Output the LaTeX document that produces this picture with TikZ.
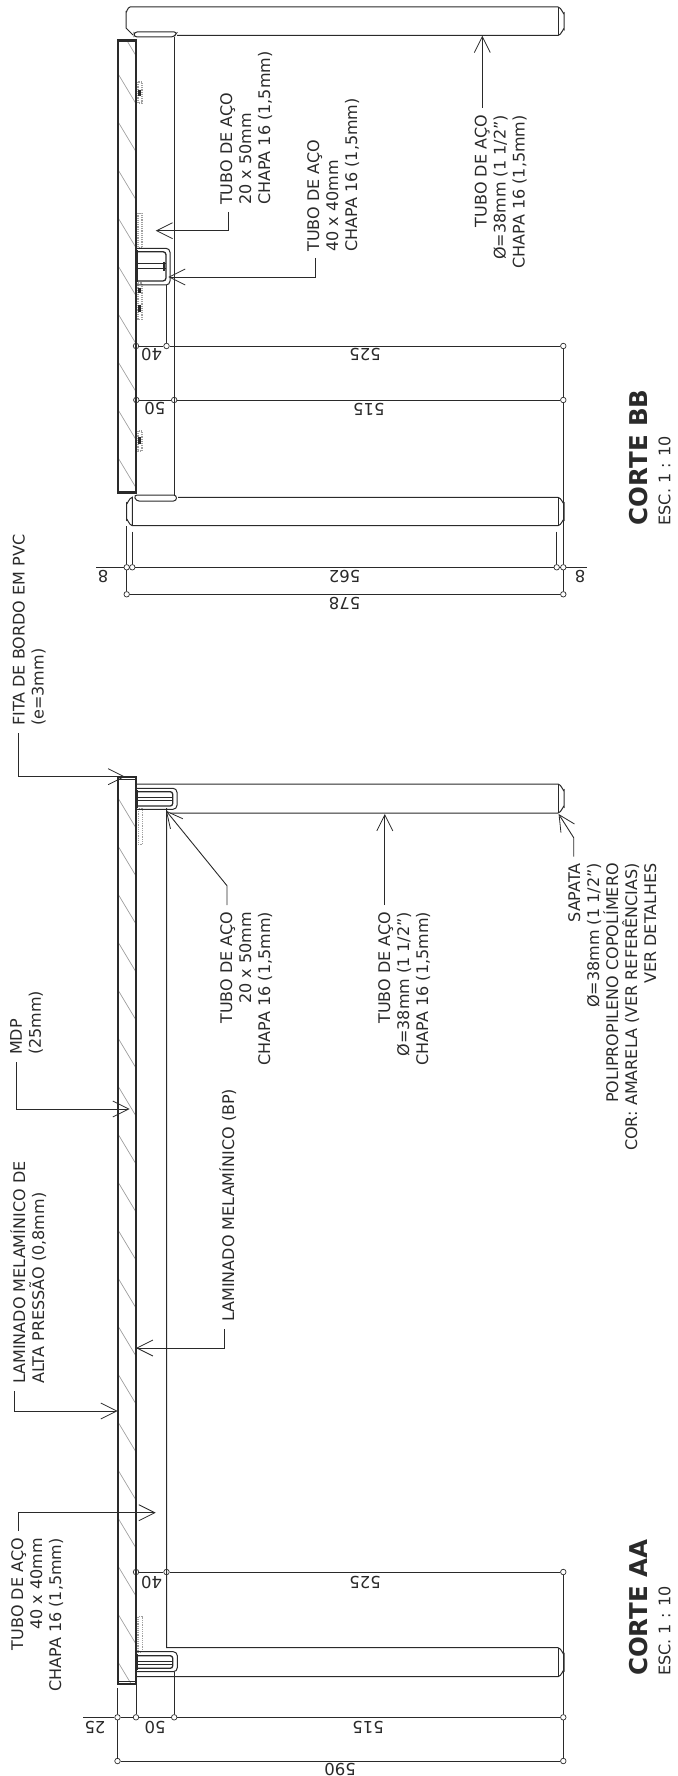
\documentclass[tikz,border=0pt]{standalone}
\usepackage{fontspec}
\setmainfont{DejaVu Sans}
\usetikzlibrary{arrows.meta}
\definecolor{inkGray}{HTML}{2A2A2A}
\definecolor{hatchGray}{HTML}{A0A0A0}
\begin{document}
\begin{tikzpicture}[x=1pt,y=-1pt,
        noteNode/.style = {rotate=90,inner sep=0pt,text=inkGray,font=\fontsize{16}{19}\selectfont},
        noteLeft/.style = {noteNode,align=left,anchor=north west},
        noteRight/.style = {noteNode,align=right,anchor=north east},
        dimNode/.style = {rotate=180,inner sep=0pt,text=inkGray,font=\fontsize{16.5}{19}\selectfont},
        titleNode/.style = {rotate=90,inner sep=0pt,anchor=west,text=inkGray,font=\fontsize{24.5}{28}\selectfont\bfseries},
        scaleNode/.style = {rotate=90,inner sep=0pt,anchor=west,text=inkGray,font=\fontsize{16}{19}\selectfont},
        dimDot/.style = {shape=circle,draw=inkGray,line width=0.7pt,minimum size=5.5pt,inner sep=0pt},
        dimLine/.style = {draw=inkGray,line width=0.75pt},
        leaderLine/.style = {draw=inkGray,line width=0.9pt,-{Straight Barb[length=16pt,width=16pt,line width=0.8pt]}},
        thickLine/.style = {draw=inkGray,line width=1.3pt},
        thinLine/.style = {draw=inkGray,line width=1pt},
        hatchLine/.style = {draw=hatchGray,line width=0.7pt},
        plateLine/.style = {draw=hatchGray,line width=1.2pt,densely dotted}
        ]
    \useasboundingbox (0,0) rectangle (677,1776);

    \begin{scope}
        \clip (118,40) rectangle (136,493);
        \foreach \ypos in {25.7,73.7,...,458} {\draw[hatchLine] (118,\ypos) -- (136,\ypos+30);}
    \end{scope}
    \begin{scope}
        \clip (118,777) rectangle (136,1684);
        \foreach \ypos in {798,846,...,1663} {\draw[hatchLine] (118,\ypos) -- (136,\ypos+30);}
    \end{scope}

    \draw[thickLine] (118,40) rectangle (136,493);
    \draw[thinLine] (118,42) -- (136,42) (118,491) -- (136,491);
    \draw[thinLine] (130,7) -- (558,7) to[out=0,in=-90] (564,13) -- (564,29.5) to[out=90,in=0] (558,35.5) -- (177,35.5);
    \draw[thinLine] (130,7) to[out=180,in=-90] (126,12) -- (126,28) -- (133,35);
    \draw[thinLine] (558,7) -- (558,35.5);
    \draw[thinLine] (178,497.3) -- (558,497.3) to[out=0,in=-90] (564,503) -- (564,520) to[out=90,in=0] (558,525.7) -- (132.3,525.7) to[out=180,in=90] (126.7,520) -- (126.7,503) to[out=-90,in=180] (132.3,497.3) -- (132.3,525.7);
    \draw[thinLine] (558,497.3) -- (558,525.7);
    \draw[thinLine] (174,37) -- (174,495);
    \draw[thinLine,rounded corners=3pt] (134,37) -- (134,32) -- (177.3,32) -- (174,37) -- cycle;
    \draw[thinLine,rounded corners=3pt] (134,495) -- (176.5,495) -- (176.5,501) -- (136,501) -- cycle;

    \draw[plateLine] (138,213.3) rectangle (142,248);
    \draw[plateLine] (138,283) rectangle (142,319.3);
    \draw[plateLine] (138,82) rectangle (142,103);
    \draw[plateLine] (138,431) rectangle (142,451);
    \draw[line width=2.5pt,inkGray] (136.5,250) -- (136.5,282);
    \draw[line width=2.5pt,inkGray] (139.5,90) -- (139.5,96) (139.5,437) -- (139.5,444) (139.5,288) -- (139.5,293) (139.5,305) -- (139.5,312);
    \draw[thinLine,rounded corners=4pt] (137,248.3) -- (170,248.3) -- (170,285) -- (137,285);
    \draw[thickLine,rounded corners=3pt] (137.5,251.7) -- (166,251.7) -- (166,281) -- (137.5,281);
    \draw[thinLine] (137.5,264) -- (166,264) (137.5,269) -- (166,269);
    \draw[line width=1.8pt,inkGray] (164,261.7) -- (164,271);

    \draw[thickLine] (118,777) rectangle (136,1684);
    \draw[thinLine] (118,1681) -- (136,1681) (118,779) -- (136,779);
    \draw[thinLine] (137,784) -- (558,784) to[out=0,in=-90] (564,790) -- (564,807) to[out=90,in=0] (558,813) -- (170,813);
    \draw[thinLine] (558,784) -- (558,813);
    \draw[thinLine] (166.7,808) -- (166.7,1647.7) -- (558,1647.7) to[out=0,in=-90] (564,1653.7) -- (564,1670.7) to[out=90,in=0] (558,1676.7) -- (137,1676.7);
    \draw[thinLine] (558,1647.7) -- (558,1676.7);

    \draw[plateLine] (138.3,809) rectangle (142.5,844.3);
    \draw[plateLine] (138,1616.7) rectangle (142.3,1652);
    \draw[thinLine,rounded corners=4pt] (137,788.3) -- (177,788.3) -- (177,809.3) -- (137,809.3);
    \draw[thickLine,rounded corners=2.5pt] (137.5,791.7) -- (172.7,791.7) -- (172.7,806) -- (137.5,806);
    \draw[thinLine] (137.5,797.5) -- (172.7,797.5) (137.5,800.5) -- (172.7,800.5);
    \draw[line width=2.5pt,inkGray] (136.5,790) -- (136.5,808);
    \draw[thinLine,rounded corners=4pt] (137,1651.7) -- (177.3,1651.7) -- (177.3,1671.7) -- (137,1671.7);
    \draw[thickLine,rounded corners=2.5pt] (137.5,1655.7) -- (172.7,1655.7) -- (172.7,1668.3) -- (137.5,1668.3);
    \draw[thinLine] (137.5,1661) -- (172.7,1661) (137.5,1664.5) -- (172.7,1664.5);
    \draw[line width=2.5pt,inkGray] (136.5,1654) -- (136.5,1670);

    \node[dimDot] (topLeftB) at (136,346) {};
    \node[dimDot] (topMidB) at (166.5,346) {};
    \node[dimDot] (topRightB) at (563.3,346) {};
    \node[dimDot] (legLeftB) at (136.3,400) {};
    \node[dimDot] (legMidB) at (174.2,400) {};
    \node[dimDot] (legRightB) at (563.3,400) {};
    \node[dimDot] (innerLeftB) at (132.3,567.3) {};
    \node[dimDot] (outerLeftB) at (126.7,567.3) {};
    \node[dimDot] (innerRightB) at (556.7,567.3) {};
    \node[dimDot] (outerRightB) at (563.3,567.3) {};
    \node[dimDot] (baseLeftB) at (126.7,594.3) {};
    \node[dimDot] (baseRightB) at (563.3,594.3) {};
    \coordinate (farLeftB) at (96,567.3);
    \coordinate (farRightB) at (587,567.3);
    \coordinate (capLeftB) at (132.3,531.7);
    \coordinate (capRightB) at (556.7,531.7);
    \coordinate (sideLeftB) at (126.7,526);
    \coordinate (tubeEdgeB) at (166.5,285);

    \draw[dimLine] (topLeftB) -- (topMidB) -- (topRightB);
    \draw[dimLine] (legLeftB) -- (legMidB) -- (legRightB);
    \draw[dimLine] (farLeftB) -- (outerLeftB) -- (innerLeftB) -- (innerRightB) -- (outerRightB) -- (farRightB);
    \draw[dimLine] (baseLeftB) -- (baseRightB);
    \draw[dimLine] (topRightB) -- (legRightB) -- (outerRightB) -- (baseRightB);
    \draw[dimLine] (sideLeftB) -- (outerLeftB) -- (baseLeftB);
    \draw[dimLine] (capLeftB) -- (innerLeftB);
    \draw[dimLine] (capRightB) -- (innerRightB);
    \draw[dimLine] (tubeEdgeB) -- (topMidB);

    \node[dimNode] (dimFortyB) at (151.7,355) {40};
    \node[dimNode] (dimTopB) at (365,355) {525};
    \node[dimNode] (dimFiftyB) at (154.8,409) {50};
    \node[dimNode] (dimLegB) at (368.8,409) {515};
    \node[dimNode] (dimEightLeft) at (103,576.7) {8};
    \node[dimNode] (dimEightRight) at (580,576.7) {8};
    \node[dimNode] (dimInnerB) at (344.6,576.7) {562};
    \node[dimNode] (dimOuterB) at (344.6,604) {578};

    \node[dimDot] (topLeftA) at (136,1572) {};
    \node[dimDot] (topMidA) at (166.5,1572) {};
    \node[dimDot] (topRightA) at (563.3,1572) {};
    \node[dimDot] (boardLeftA) at (117.5,1717.3) {};
    \node[dimDot] (boardRightA) at (136,1717.3) {};
    \node[dimDot] (legMidA) at (174.2,1717.3) {};
    \node[dimDot] (legRightA) at (563.3,1717.3) {};
    \node[dimDot] (baseLeftA) at (117.5,1761) {};
    \node[dimDot] (baseRightA) at (563.3,1761) {};
    \coordinate (farLeftA) at (83,1717.3);
    \coordinate (boardEndA) at (117.5,1688);
    \coordinate (boardEdgeA) at (136,1684);
    \coordinate (tubeEdgeA) at (174.2,1672);

    \draw[dimLine] (topLeftA) -- (topMidA) -- (topRightA);
    \draw[dimLine] (farLeftA) -- (boardLeftA) -- (boardRightA) -- (legMidA) -- (legRightA);
    \draw[dimLine] (baseLeftA) -- (baseRightA);
    \draw[dimLine] (topRightA) -- (legRightA) -- (baseRightA);
    \draw[dimLine] (boardEndA) -- (boardLeftA) -- (baseLeftA);
    \draw[dimLine] (boardEdgeA) -- (boardRightA);
    \draw[dimLine] (tubeEdgeA) -- (legMidA);

    \node[dimNode] (dimFortyA) at (151.7,1582) {40};
    \node[dimNode] (dimTopA) at (365,1582) {525};
    \node[dimNode] (dimBoardA) at (95,1727) {25};
    \node[dimNode] (dimFiftyA) at (155,1727) {50};
    \node[dimNode] (dimLegA) at (368,1727) {515};
    \node[dimNode] (dimOuterA) at (340,1769) {590};

    \node[noteLeft] (noteChannelB) at (220,205) {TUBO DE AÇO\\20 x 50mm\\CHAPA 16 (1,5mm)};
    \node[noteLeft] (noteTubeB) at (307,251.7) {TUBO DE AÇO\\40 x 40mm\\CHAPA 16 (1,5mm)};
    \node[noteRight] (noteLegB) at (474.5,115) {TUBO DE AÇO\\Ø=38mm (1 1/2")\\CHAPA 16 (1,5mm)};
    \node[noteLeft] (noteEdge) at (12.5,726) {FITA DE BORDO EM PVC\\(e=3mm)};
    \node[noteLeft] (noteBoard) at (10,1055) {MDP\\(25mm)};
    \node[noteLeft] (noteLamBp) at (219,1322) {LAMINADO MELAMÍNICO (BP)};
    \node[noteLeft] (noteLamAp) at (10,1384) {LAMINADO MELAMÍNICO DE\\ALTA PRESSÃO (0,8mm)};
    \node[noteRight] (noteTubeA) at (11,1538) {TUBO DE AÇO\\40 x 40mm\\CHAPA 16 (1,5mm)};
    \node[noteRight] (noteChannelA) at (220,911.7) {TUBO DE AÇO\\20 x 50mm\\CHAPA 16 (1,5mm)};
    \node[noteRight] (noteLegA) at (378,911.7) {TUBO DE AÇO\\Ø=38mm (1 1/2")\\CHAPA 16 (1,5mm)};
    \node[noteRight] (noteFoot) at (568,863) {SAPATA\\Ø=38mm (1 1/2")\\POLIPROPILENO COPOLÍMERO\\COR: AMARELA (VER REFERÊNCIAS)\\VER DETALHES};

    \coordinate (startChannelB) at (228,212);
    \coordinate (tipChannelB) at (155.7,230.7);
    \coordinate (startTubeB) at (315,258);
    \coordinate (tipTubeB) at (168.3,277);
    \coordinate (startLegB) at (482.3,108);
    \coordinate (tipLegB) at (482.3,35.7);
    \coordinate (startEdge) at (18.6,733);
    \coordinate (tipEdge) at (125,776.7);
    \coordinate (startBoard) at (16,1062);
    \coordinate (tipBoard) at (129.7,1109);
    \coordinate (startLamBp) at (224.7,1329);
    \coordinate (tipLamBp) at (136,1348);
    \coordinate (startLamAp) at (14.7,1391);
    \coordinate (tipLamAp) at (117.7,1411);
    \coordinate (startTubeA) at (18,1531);
    \coordinate (tipTubeA) at (155.7,1512.7);
    \coordinate (startChannelA) at (227,905);
    \coordinate (bendChannelA) at (227,885.7);
    \coordinate (tipChannelA) at (166,810.7);
    \coordinate (startLegA) at (384.8,905);
    \coordinate (tipLegA) at (384.8,814);
    \coordinate (startFoot) at (573.7,856.7);
    \coordinate (bendFoot) at (573.7,837.7);
    \coordinate (tipFoot) at (558.6,814);

    \draw[leaderLine] (startChannelB) |- (tipChannelB);
    \draw[leaderLine] (startTubeB) |- (tipTubeB);
    \draw[leaderLine] (startLegB) -- (tipLegB);
    \draw[leaderLine] (startEdge) |- (tipEdge);
    \draw[leaderLine] (startBoard) |- (tipBoard);
    \draw[leaderLine] (startLamBp) |- (tipLamBp);
    \draw[leaderLine] (startLamAp) |- (tipLamAp);
    \draw[leaderLine] (startTubeA) |- (tipTubeA);
    \draw[leaderLine] (startChannelA) -- (bendChannelA) -- (tipChannelA);
    \draw[leaderLine] (startLegA) -- (tipLegA);
    \draw[leaderLine] (startFoot) -- (bendFoot) -- (tipFoot);

    \node[titleNode] (titleBB) at (638.5,525.5) {CORTE BB};
    \node[scaleNode] (scaleBB) at (664.5,525.5) {ESC. 1 : 10};
    \node[titleNode] (titleAA) at (638.5,1676) {CORTE AA};
    \node[scaleNode] (scaleAA) at (664.5,1676) {ESC. 1 : 10};
\end{tikzpicture}
\end{document}
